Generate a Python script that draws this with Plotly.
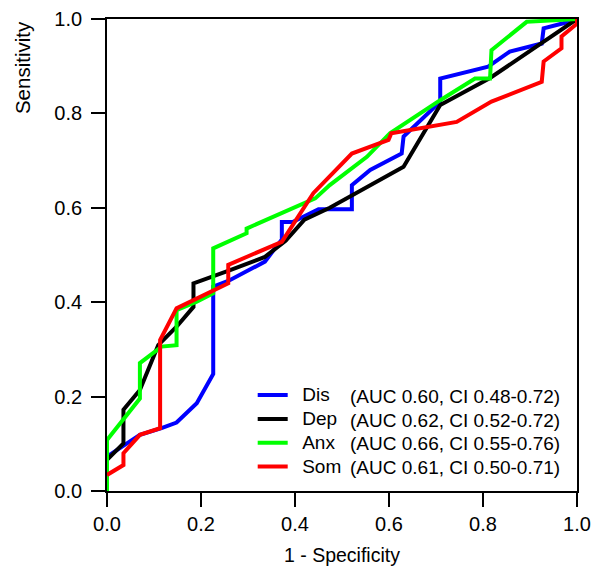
import plotly.graph_objects as go

FONT = "Liberation Sans, Arial, Helvetica, sans-serif"

names = ["Dis", "Dep", "Anx", "Som"]
auc_labels = ["(AUC 0.60, CI 0.48-0.72)", "(AUC 0.62, CI 0.52-0.72)",
              "(AUC 0.66, CI 0.55-0.76)", "(AUC 0.61, CI 0.50-0.71)"]
colors = ["#0000ff", "#000000", "#00ff00", "#ff0000"]

dis_x = [0, 0.070, 0.116, 0.148, 0.191, 0.226, 0.226, 0.262, 0.336, 0.372, 0.372, 0.395,
         0.450, 0.521, 0.521, 0.560, 0.627, 0.631, 0.709, 0.709, 0.811, 0.857, 0.925,
         0.929, 0.971, 1.0]
dis_y = [0.073, 0.119, 0.133, 0.145, 0.186, 0.248, 0.433, 0.447, 0.486, 0.533, 0.570, 0.570,
         0.597, 0.597, 0.648, 0.680, 0.715, 0.751, 0.825, 0.874, 0.899, 0.931, 0.948,
         0.980, 0.991, 1.0]

dep_x = [0, 0.035, 0.035, 0.070, 0.109, 0.148, 0.184, 0.184, 0.262, 0.336, 0.380, 0.420,
         0.474, 0.631, 0.709, 0.815, 1.0]
dep_y = [0.066, 0.101, 0.172, 0.214, 0.309, 0.348, 0.390, 0.440, 0.468, 0.496, 0.530, 0.575,
         0.600, 0.687, 0.818, 0.875, 1.0]

anx_x = [0, 0, 0.070, 0.070, 0.116, 0.148, 0.148, 0.191, 0.226, 0.226, 0.297, 0.297,
         0.443, 0.474, 0.553, 0.602, 0.709, 0.783, 0.815, 0.818, 0.893, 1.0]
anx_y = [0.0, 0.108, 0.196, 0.271, 0.306, 0.309, 0.383, 0.401, 0.419, 0.514, 0.546, 0.556,
         0.620, 0.648, 0.708, 0.758, 0.828, 0.874, 0.874, 0.934, 0.994, 1.0]

som_x = [0, 0.035, 0.035, 0.070, 0.113, 0.113, 0.148, 0.187, 0.258, 0.258, 0.372, 0.439,
         0.521, 0.599, 0.605, 0.744, 0.818, 0.925, 0.929, 0.967, 0.967, 1.0, 1.0]
som_y = [0.034, 0.055, 0.080, 0.119, 0.133, 0.320, 0.387, 0.405, 0.440, 0.479, 0.528, 0.631,
         0.715, 0.744, 0.758, 0.782, 0.825, 0.867, 0.910, 0.938, 0.963, 0.990, 1.0]

xs = [dis_x, dep_x, anx_x, som_x]
ys = [dis_y, dep_y, anx_y, som_y]

x_ticks = [0.0, 0.2, 0.4, 0.6, 0.8, 1.0]
y_ticks = [0.0, 0.2, 0.4, 0.6, 0.8, 1.0]

fig = go.Figure()
for n, c, x, y in zip(names, colors, xs, ys):
    fig.add_trace(go.Scatter(
        x=x, y=y, mode="lines",
        name='<span style="font-size:19px">\u2002' + n + '</span>',
        line=dict(color=c, width=4), legendgroup=n))

# AUC column aligned with legend rows
row_y = [0.201, 0.150, 0.101, 0.049]
for t, yy in zip(auc_labels, row_y):
    fig.add_annotation(x=0.513, y=yy, xref="paper", yref="paper", text=t,
                       showarrow=False, xanchor="left", yanchor="middle",
                       font=dict(family=FONT, size=19, color="black"))

fig.add_annotation(x=-0.181, y=0.898, xref="paper", yref="paper", text="Sensitivity",
                   textangle=-90, showarrow=False, xanchor="center", yanchor="middle",
                   font=dict(family=FONT, size=20.5, color="black"))

fig.add_annotation(x=0.5, y=-0.136, xref="paper", yref="paper", text="1 - Specificity",
                   showarrow=False, xanchor="center", yanchor="middle",
                   font=dict(family=FONT, size=19.5, color="black"))

axis_common = dict(showgrid=False, zeroline=False, showline=True, linecolor="black",
                   linewidth=1.8, mirror=True, ticks="outside", ticklen=14, tickwidth=1.8,
                   tickcolor="black", tickformat=".1f", automargin=False,
                   tickfont=dict(family=FONT, size=20, color="black"))

fig.update_xaxes(range=[0, 1], tickvals=x_ticks, **axis_common)
fig.update_yaxes(range=[0, 1], tickvals=y_ticks, ticklabelstandoff=5, **axis_common)

# the page body adds an 8px offset; size the figure so the plot area lands where the reference has it
fig.update_layout(
    width=592, height=565,
    margin=dict(l=99, r=23, t=11, b=82),
    paper_bgcolor="white", plot_bgcolor="white",
    font=dict(family=FONT, size=19, color="black"),
    showlegend=True,
    legend=dict(x=0.31, y=0.239, xanchor="left", yanchor="top", bgcolor="rgba(0,0,0,0)",
                font=dict(family=FONT, size=16, color="black"), tracegroupgap=0),
)

fig.write_html("out.html")
